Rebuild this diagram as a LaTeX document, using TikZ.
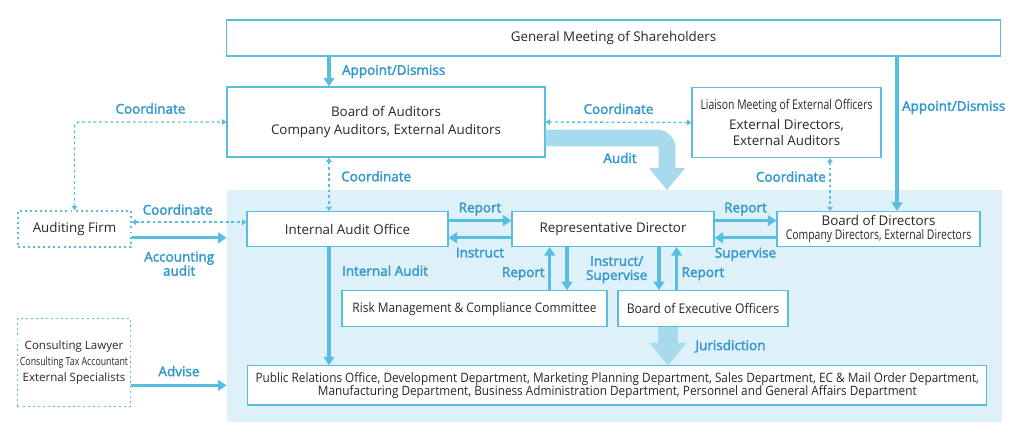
\documentclass[tikz,border=0pt]{standalone}
\usepackage{fontspec}
\setmainfont{Open Sans}
\newfontfamily\narrowfont[FakeStretch=0.78]{Open Sans}
\newfontfamily\semifont[FakeStretch=0.91]{Open Sans}
\newfontfamily\lblfont[FakeBold=2.2]{Open Sans}
\usepackage{xcolor}
\usetikzlibrary{arrows.meta}
\definecolor{linecol}{RGB}{88,190,225}
\definecolor{labelcol}{RGB}{50,152,208}
\definecolor{zonecol}{RGB}{222,240,248}
\definecolor{bigcol}{RGB}{168,218,238}
\definecolor{textcol}{RGB}{40,40,40}
\tikzstyle{box} = [rectangle, draw=linecol, fill=white, line width=0.8pt, text=textcol, text centered, align=center, inner sep=0pt, font=\fontsize{9.5}{13}\selectfont]
\tikzstyle{outbox} = [box, fill=none, line width=1.1pt, dash pattern=on 1.4pt off 2.2pt]
\tikzstyle{zone} = [rectangle, fill=zonecol, inner sep=0pt]
\tikzstyle{arrow} = [draw=linecol, line width=2.2pt, -{Triangle[width=7.5pt,length=6pt]}]
\tikzstyle{coord} = [draw=linecol, line width=1pt, dash pattern=on 2pt off 2pt, {Triangle[width=4pt,length=3pt]}-{Triangle[width=4pt,length=3pt]}]
\tikzstyle{bigarrow} = [draw=bigcol, line width=0.5cm, -{Triangle[width=0.875cm,length=0.55cm]}]
\tikzstyle{lbl} = [text=labelcol, font=\lblfont\fontsize{9.6}{11}\selectfont, align=center, inner sep=2.5pt]

\begin{document}
\begin{tikzpicture}[x=0.025cm, y=-0.025cm]
\useasboundingbox (0,0) rectangle (1024,439);
\node [zone, minimum width=19.375cm, minimum height=5.79cm] (zone) at (614.5,305.9) {};
% top row
\node [box, minimum width=19.325cm, minimum height=0.9cm] (gms) at (613.5,38)
	{General Meeting of Shareholders};
\node [box, minimum width=7.95cm, minimum height=1.75cm] (boa) at (386,122)
	{Board of Auditors\\Company Auditors, External Auditors};
\node [box, minimum width=4.725cm, minimum height=1.75cm, font=\fontsize{9.5}{11.5}\selectfont] (liaison) at (786.5,122.5)
	{{\narrowfont Liaison Meeting of External Officers}\\[3pt]External Directors,\\External Auditors};
% middle row
\node [outbox, minimum width=2.825cm, minimum height=0.9cm] (firm) at (74.5,229) {Auditing Firm};
\node [box, minimum width=5.025cm, minimum height=0.875cm] (iao) at (347.5,229) {Internal Audit Office};
\node [box, minimum width=5.05cm, minimum height=0.875cm] (rep) at (613,229) {Representative Director};
\node [box, minimum width=5.075cm, minimum height=0.875cm, font=\fontsize{9.5}{10}\selectfont] (bod) at (878.5,229)
	{Board of Directors\\{\narrowfont Company Directors, External Directors}};
\node [box, minimum width=6.625cm, minimum height=0.9cm, font=\semifont\fontsize{9.3}{11}\selectfont] (risk) at (474.5,308.7)
	{Risk Management \& Compliance Committee};
\node [box, minimum width=4.25cm, minimum height=0.9cm, font=\semifont\fontsize{9.5}{11}\selectfont] (exec) at (703,308.7)
	{Board of Executive Officers};
% bottom row
\node [outbox, minimum width=2.825cm, minimum height=2.2cm, font=\fontsize{8.2}{11.7}\selectfont] (consult) at (74,362.5)
	{Consulting Lawyer\\{\narrowfont\fontsize{8}{11.7}\selectfont Consulting Tax Accountant}\\External Specialists};
\node [box, minimum width=18.465cm, minimum height=0.98cm, font=\semifont\fontsize{9.2}{9.4}\selectfont] (dept) at (617.3,385.4)
	{Public Relations Office, Development Department, Marketing Planning Department, Sales Department, EC \& Mail Order Department,\\
	Manufacturing Department, Business Administration Department, Personnel and General Affairs Department};
\coordinate (auditx) at (329,0);
\coordinate (appointx) at (897,0);
\coordinate (liaisonx) at (830,0);
\coordinate (auditend) at (667,190);
% connectors
\draw [arrow] (gms.south -| auditx) -- node[lbl, right, xshift=0.2cm] {Appoint/Dismiss} (boa.north -| auditx);
\draw [arrow] (gms.south -| appointx) -- node[lbl, right, pos=0.33] {Appoint/Dismiss} (bod.north -| appointx);
\draw [coord] (boa.east) -- node[lbl, above, yshift=0.1cm] {Coordinate} (liaison.west);
\draw [coord, rounded corners=3pt] (firm.north) |- node[lbl, above, pos=0.75, yshift=0.1cm] {Coordinate} (boa.west);
\draw [coord] (boa.south -| auditx) -- node[lbl, right, xshift=0.2cm, pos=0.35] {Coordinate} (iao.north -| auditx);
\draw [coord] (liaison.south -| liaisonx) -- node[lbl, left, pos=0.35] {Coordinate} (bod.north -| liaisonx);
\draw [coord] ([yshift=0.17cm]firm.east) -- node[lbl, above, pos=0.4, yshift=0.08cm] {Coordinate} ([yshift=0.17cm]iao.west);
\draw [arrow] ([yshift=-0.22cm]firm.east) -- node[lbl, below, yshift=-0.22cm] {Accounting\\[-1pt]audit} ([yshift=-0.22cm]firm.east -| zone.west);
\draw [arrow] (consult.east |- dept) -- node[lbl, above, yshift=0.1cm] {Advise} (zone.west |- dept);
\draw [arrow] (iao.south -| auditx) -- node[lbl, right, pos=0.2, xshift=0.2cm] {Internal Audit} (dept.north -| auditx);
\draw [arrow] ([yshift=0.21cm]iao.east) -- node[lbl, above] {Report} ([yshift=0.21cm]rep.west);
\draw [arrow] ([yshift=-0.22cm]rep.west) -- node[lbl, below, yshift=-0.12cm] {Instruct} ([yshift=-0.22cm]iao.east);
\draw [arrow] ([yshift=0.21cm]rep.east) -- node[lbl, above] {Report} ([yshift=0.21cm]bod.west);
\draw [arrow] ([yshift=-0.22cm]bod.west) -- node[lbl, below, yshift=-0.12cm] {Supervise} ([yshift=-0.22cm]rep.east);
\draw [arrow] ([xshift=1.88cm]risk.north) -- node[lbl, left, yshift=-0.13cm] {Report} ([xshift=1.88cm]risk.north |- rep.south);
\draw [arrow] ([xshift=-1.15cm]rep.south) -- node[lbl, right, xshift=0.35cm, pos=0.45, yshift=-0.08cm] {Instruct/\\[-1pt]Supervise} ([xshift=-1.15cm]rep.south |- risk.north);
\draw [arrow] ([xshift=-1.1cm]exec.north |- rep.south) -- ([xshift=-1.1cm]exec.north);
\draw [arrow] ([xshift=-0.66cm]exec.north) -- node[lbl, right, yshift=-0.13cm] {Report} ([xshift=-0.66cm]exec.north |- rep.south);
% wide arrows
\draw [bigarrow, line width=0.42cm, rounded corners=0.25cm] ([yshift=-0.4cm]boa.east) -| (auditend);
\node [lbl] (audit) at (620,158) {Audit};
\draw [bigarrow] ([xshift=-0.875cm]exec.south) -- node[lbl, right, xshift=0.35cm] {Jurisdiction} ([xshift=-0.875cm]exec.south |- dept.north);
\end{tikzpicture}
\end{document}
